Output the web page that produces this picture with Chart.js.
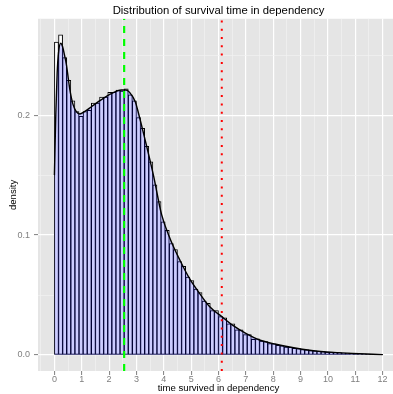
<!DOCTYPE html>
<html>
<head>
<meta charset="utf-8">
<script src="https://cdn.jsdelivr.net/npm/chart.js@4.4.0/dist/chart.umd.min.js"></script>
<style>
html, body { margin: 0; padding: 0; overflow: hidden; background: #fff; }
</style>
</head>
<body>
<canvas id="myChart" width="400" height="394"></canvas>
<script>
// histograma: ancho de clase y alturas (densidad)
const anchoClase = 0.15
const alturas = [0.261, 0.267, 0.248, 0.229, 0.212, 0.203, 0.199, 0.203, 0.204, 0.210,
                 0.210, 0.215, 0.215, 0.219, 0.219, 0.221, 0.220, 0.222, 0.217, 0.212,
                 0.198, 0.189, 0.174, 0.161, 0.142, 0.128, 0.111, 0.104, 0.093, 0.088,
                 0.078, 0.074, 0.065, 0.062, 0.055, 0.052, 0.045, 0.043, 0.037, 0.037,
                 0.032, 0.031, 0.026, 0.026, 0.021, 0.021, 0.017, 0.017, 0.013, 0.0135,
                 0.0115, 0.0112, 0.0095, 0.0094, 0.0080, 0.0076, 0.0066, 0.0064, 0.0055, 0.0053,
                 0.0046, 0.0043, 0.0037, 0.0035, 0.0030, 0.0029, 0.0024, 0.0024, 0.0020, 0.0020,
                 0.0016, 0.0016, 0.0013, 0.0012, 0.0010, 0.0009, 0.0008, 0.0006, 0.0005, 0.0003]

// curva de densidad
const densX = [0, 0.05, 0.1, 0.15, 0.23, 0.3, 0.37, 0.44, 0.5, 0.56, 0.68, 0.8, 0.93, 1.1, 1.35,
               1.72, 2.08, 2.45, 2.62, 2.75, 2.96, 3.07, 3.31, 3.62, 3.92, 4.23, 4.59, 4.96, 5.32,
               5.69, 6.12, 6.54, 7.0, 7.5, 8.1, 8.7, 9.4, 10.2, 10.9, 12]
const densY = [0.15, 0.20, 0.235, 0.252, 0.26, 0.257, 0.25, 0.242, 0.232, 0.222, 0.209, 0.203, 0.201, 0.203, 0.207,
               0.213, 0.218, 0.221, 0.221, 0.219, 0.211, 0.202, 0.180, 0.150, 0.117, 0.097, 0.079, 0.063, 0.051,
               0.040, 0.032, 0.0245, 0.018, 0.0125, 0.009, 0.0062, 0.0038, 0.0022, 0.0013, 0.0003]

// lineas verticales (media y percentil)
const lineaMedia = 2.55
const lineaPercentil = 6.12

const titulo = 'Distribution of survival time in dependency'
const tituloX = 'time survived in dependency'
const tituloY = 'density'

const xMin = -0.6, xMax = 12.6
const yMin = -0.01335, yMax = 0.2804

const fuente = "'Liberation Sans', Arial, sans-serif"

function grafico_histograma(){

    const ctx = document.getElementById('myChart')

    const barras = alturas.map((v, i) => ({ x: anchoClase * i + anchoClase / 2, y: v }))
    const densidad = densX.map((x, i) => ({ x: x, y: densY[i] }))

    const esMayorX = v => Math.abs(v - Math.round(v)) < 1e-6
    const esMayorY = v => Math.abs(v * 10 - Math.round(v * 10)) < 1e-6

    // fondo gris del panel, estilo ggplot
    const fondoPanel = {
        id: 'fondoPanel',
        beforeDraw(chart){
            const a = chart.chartArea
            const c = chart.ctx
            c.save()
            c.fillStyle = '#E5E5E5'
            c.fillRect(a.left, a.top, a.right - a.left, a.bottom - a.top)
            c.restore()
        }
    }

    const mychart = new Chart(ctx, {
        type: 'bar',
        data: {
            datasets: [
                {
                    type: 'line',
                    label: 'media',
                    data: [{ x: lineaMedia, y: yMin }, { x: lineaMedia, y: yMax }],
                    borderColor: '#00FF00',
                    borderWidth: 2.2,
                    borderDash: [7, 6],
                    pointRadius: 0,
                    fill: false,
                    order: 0
                },
                {
                    type: 'line',
                    label: 'percentil',
                    data: [{ x: lineaPercentil, y: yMin }, { x: lineaPercentil, y: yMax }],
                    borderColor: '#FF0000',
                    borderWidth: 2,
                    borderDash: [2, 6.3],
                    pointRadius: 0,
                    fill: false,
                    order: 0
                },
                {
                    type: 'line',
                    label: 'densidad',
                    data: densidad,
                    borderColor: '#000000',
                    borderWidth: 1.4,
                    backgroundColor: 'rgba(0,0,255,0.2)',
                    fill: 'origin',
                    pointRadius: 0,
                    cubicInterpolationMode: 'monotone',
                    order: 1
                },
                {
                    type: 'bar',
                    label: 'histograma',
                    data: barras,
                    backgroundColor: '#FFFFFF',
                    borderColor: '#000000',
                    borderWidth: 1,
                    borderSkipped: false,
                    barPercentage: 1,
                    categoryPercentage: 1,
                    order: 2
                }
            ]
        },
        options: {
            responsive: false,
            animation: false,
            devicePixelRatio: 1,
            layout: { padding: { left: 0, right: 1, top: 0, bottom: 0 } },
            plugins: {
                legend: { display: false },
                tooltip: { enabled: false },
                title: {
                    display: true,
                    text: titulo,
                    color: '#000000',
                    fullSize: false,
                    font: { family: fuente, size: 11.3, weight: 'normal', lineHeight: 1.2 },
                    padding: { top: 4.5, bottom: 0.7 }
                }
            },
            scales: {
                x: {
                    type: 'linear',
                    min: xMin,
                    max: xMax,
                    offset: false,
                    border: { display: false },
                    grid: {
                        offset: false,
                        color: c => esMayorX(c.tick.value) ? '#FFFFFF' : '#F2F2F2',
                        lineWidth: c => esMayorX(c.tick.value) ? 1.2 : 0.7,
                        tickColor: c => esMayorX(c.tick.value) ? '#7F7F7F' : 'rgba(0,0,0,0)',
                        tickLength: 4,
                        tickWidth: 1
                    },
                    ticks: {
                        stepSize: 0.5,
                        includeBounds: false,
                        autoSkip: false,
                        maxRotation: 0,
                        color: '#7F7F7F',
                        padding: -1,
                        font: { family: fuente, size: 9 },
                        callback: v => esMayorX(v) ? String(Math.round(v)) : ''
                    },
                    title: {
                        display: true,
                        text: tituloX,
                        color: '#000000',
                        font: { family: fuente, size: 9.6, lineHeight: 1 },
                        padding: { top: 0, bottom: 0.5 }
                    },
                    afterFit: s => { s.height = 23 }
                },
                y: {
                    min: yMin,
                    max: yMax,
                    border: { display: false },
                    grid: {
                        color: c => esMayorY(c.tick.value) ? '#FFFFFF' : '#F2F2F2',
                        lineWidth: c => esMayorY(c.tick.value) ? 1.2 : 0.7,
                        tickColor: c => esMayorY(c.tick.value) ? '#7F7F7F' : 'rgba(0,0,0,0)',
                        tickLength: 4,
                        tickWidth: 1
                    },
                    ticks: {
                        stepSize: 0.05,
                        includeBounds: false,
                        autoSkip: false,
                        color: '#7F7F7F',
                        padding: 4,
                        font: { family: fuente, size: 9 },
                        callback: v => esMayorY(v) ? v.toFixed(1) : ''
                    },
                    title: {
                        display: true,
                        text: tituloY,
                        color: '#000000',
                        font: { family: fuente, size: 9.6 },
                        padding: { top: 8, bottom: 0 }
                    },
                    afterFit: s => { s.width = 38 }
                }
            }
        },
        plugins: [fondoPanel]
    })
}

grafico_histograma()
</script>
</body>
</html>
